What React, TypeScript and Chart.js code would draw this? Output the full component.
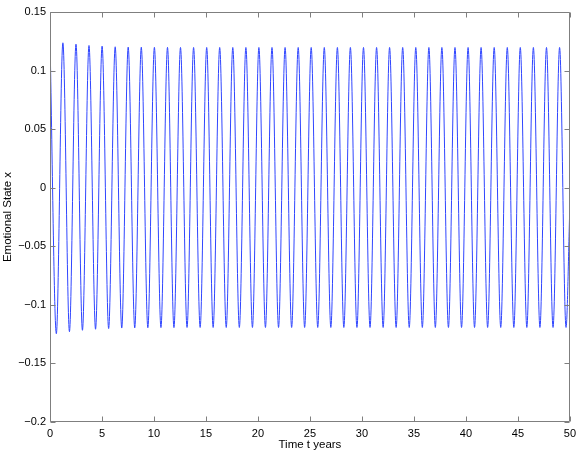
import React, { useEffect, useRef } from "react";
import { Chart, registerables } from "chart.js";

Chart.register(...registerables);

// Time (years) of each turning point of the oscillation
const times: number[] = [
  0, 0.61, 1.24, 1.87, 2.5, 3.12, 3.75, 4.38, 5.01, 5.64, 6.27, 6.9, 7.52, 8.15, 8.78, 9.41,
  10.04, 10.67, 11.3, 11.92, 12.55, 13.18, 13.81, 14.44, 15.07, 15.69, 16.32, 16.95, 17.58,
  18.21, 18.84, 19.47, 20.09, 20.72, 21.35, 21.98, 22.61, 23.24, 23.87, 24.49, 25.12, 25.75,
  26.38, 27.01, 27.64, 28.26, 28.89, 29.52, 30.15, 30.78, 31.41, 32.04, 32.66, 33.29, 33.92,
  34.55, 35.18, 35.81, 36.44, 37.06, 37.69, 38.32, 38.95, 39.58, 40.21, 40.83, 41.46, 42.09,
  42.72, 43.35, 43.98, 44.61, 45.23, 45.86, 46.49, 47.12, 47.75, 48.38, 49.01, 49.63, 50,
];

// Emotional state x at those turning points
const states: number[] = [
  0.1255, -0.1246, 0.1237, -0.1229, 0.1225, -0.1217, 0.1214, -0.1208, 0.1208, -0.1202,
  0.1203, -0.1198, 0.12, -0.1196, 0.1199, -0.1195, 0.1198, -0.1194, 0.1198, -0.1194,
  0.1197, -0.1193, 0.1197, -0.1193, 0.1197, -0.1193, 0.1197, -0.1193, 0.1197, -0.1193,
  0.1197, -0.1193, 0.1197, -0.1193, 0.1197, -0.1193, 0.1197, -0.1193, 0.1197, -0.1193,
  0.1197, -0.1193, 0.1197, -0.1193, 0.1197, -0.1193, 0.1197, -0.1193, 0.1197, -0.1193,
  0.1197, -0.1193, 0.1197, -0.1193, 0.1197, -0.1193, 0.1197, -0.1193, 0.1197, -0.1193,
  0.1197, -0.1193, 0.1197, -0.1193, 0.1197, -0.1193, 0.1197, -0.1193, 0.1197, -0.1193,
  0.1197, -0.1193, 0.1197, -0.1193, 0.1197, -0.1193, 0.1197, -0.1193, 0.1197, -0.1193,
  -0.015,
];

const xTicks: number[] = [0, 5, 10, 15, 20, 25, 30, 35, 40, 45, 50];
const yTicks: number[] = [-0.2, -0.15, -0.1, -0.05, 0, 0.05, 0.1, 0.15];

const xTitle = "Time t years";
const yTitle = "Emotional State x";

const FONT = "'Liberation Sans', Arial, Helvetica, sans-serif";
const AXIS_COLOR = "#7f7f7f";

const fmt = (v: number) => {
  const s = String(parseFloat(v.toFixed(3)));
  return s.startsWith("-") ? "\u2212" + s.slice(1) : s;
};

const boxPlugin = {
  id: "matlabBox",
  afterDraw(chart: any) {
    const { ctx, chartArea } = chart;
    const xs = chart.scales.x;
    const ys = chart.scales.y;
    const L = Math.round(chartArea.left) + 0.5;
    const R = Math.round(chartArea.right) - 0.5;
    const T = Math.round(chartArea.top) + 0.5;
    const B = Math.round(chartArea.bottom) - 0.5;
    const len = 5;
    ctx.save();
    ctx.strokeStyle = AXIS_COLOR;
    ctx.lineWidth = 1;
    ctx.beginPath();
    ctx.rect(L, T, R - L, B - T);
    xTicks.forEach((v) => {
      const px = Math.round(xs.getPixelForValue(v)) + 0.5;
      ctx.moveTo(px, B);
      ctx.lineTo(px, B - len);
      ctx.moveTo(px, T);
      ctx.lineTo(px, T + len);
    });
    yTicks.forEach((v) => {
      const py = Math.round(ys.getPixelForValue(v)) + 0.5;
      ctx.moveTo(L, py);
      ctx.lineTo(L + len, py);
      ctx.moveTo(R, py);
      ctx.lineTo(R - len, py);
    });
    ctx.stroke();
    ctx.restore();
  },
};

export default function App() {
  const ref = useRef<HTMLCanvasElement | null>(null);

  useEffect(() => {
    if (!ref.current) return;
    const data = times.map((t, i) => ({ x: t, y: states[i] }));
    const chart = new Chart(ref.current, {
      type: "line",
      data: {
        datasets: [
          {
            data,
            borderColor: "#2f45ff",
            borderWidth: 1,
            pointRadius: 0,
            fill: false,
            cubicInterpolationMode: "monotone",
          },
        ],
      },
      options: {
        animation: false,
        responsive: true,
        maintainAspectRatio: false,
        events: [],
        layout: { padding: { left: 0, right: 10, top: 12, bottom: 0 } },
        plugins: { legend: { display: false }, tooltip: { enabled: false } },
        scales: {
          x: {
            type: "linear",
            min: 0,
            max: 50,
            afterBuildTicks: (s: any) => {
              s.ticks = xTicks.map((v) => ({ value: v }));
            },
            afterFit: (s: any) => {
              s.height = 31;
            },
            grid: { display: false, drawTicks: false },
            border: { display: false },
            ticks: {
              color: "#000",
              font: { family: FONT, size: 11 },
              padding: 5,
              maxRotation: 0,
              callback: (v: any) => fmt(Number(v)),
            },
            title: {
              display: true,
              text: xTitle,
              color: "#000",
              font: { family: FONT, size: 11.5 },
              padding: { top: 0, bottom: 1 },
            },
          },
          y: {
            type: "linear",
            min: -0.2,
            max: 0.15,
            afterBuildTicks: (s: any) => {
              s.ticks = yTicks.map((v) => ({ value: v }));
            },
            afterFit: (s: any) => {
              s.width = 50;
            },
            grid: { display: false, drawTicks: false },
            border: { display: false },
            ticks: {
              color: "#000",
              font: { family: FONT, size: 11 },
              padding: 4,
              callback: (v: any) => fmt(Number(v)),
            },
            title: {
              display: true,
              text: yTitle,
              color: "#000",
              font: { family: FONT, size: 11.5 },
              padding: { top: 1, bottom: 0 },
            },
          },
        },
      },
      plugins: [boxPlugin],
    });
    return () => chart.destroy();
  }, []);

  return (
    <div
      style={{
        position: "fixed",
        left: 0,
        top: 0,
        width: 581,
        height: 453,
        background: "#fff",
      }}
    >
      <canvas ref={ref} />
    </div>
  );
}
